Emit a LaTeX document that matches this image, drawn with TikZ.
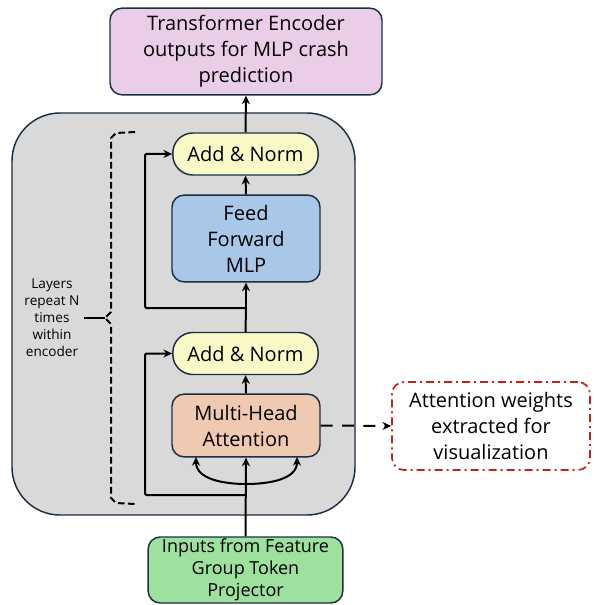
\documentclass[tikz,border=0pt]{standalone}
\usepackage{fontspec}
\setmainfont{Open Sans}
\usetikzlibrary{arrows.meta,calc}

\definecolor{pinkfill}{RGB}{234,206,232}
\definecolor{greyfill}{RGB}{217,217,217}
\definecolor{yellowfill}{RGB}{250,249,200}
\definecolor{bluefill}{RGB}{169,199,232}
\definecolor{peachfill}{RGB}{240,201,178}
\definecolor{greenfill}{RGB}{158,224,158}
\definecolor{edge}{RGB}{28,48,66}
\definecolor{dashred}{RGB}{190,36,28}

\tikzset{
  box/.style={draw=edge, line width=1.1pt, rounded corners=9pt, align=center,
    font=\fontsize{15}{19.5}\selectfont, inner sep=0pt},
  addnorm/.style={box, fill=yellowfill, rounded corners=15pt,
    minimum width=109pt, minimum height=31.5pt},
  flow/.style={line width=1.5pt, -{Stealth[length=6.5pt,width=6pt]}},
  link/.style={line width=1.5pt},
}

\begin{document}
\begin{tikzpicture}[x=0.75pt,y=-0.75pt]
			\useasboundingbox (0,0) rectangle (593,605);
			% encoder block
			\draw[fill=greyfill, draw=edge, line width=1.1pt, rounded corners=36pt] (12,113) rectangle (355,515);
			% boxes
			\node[box, fill=pinkfill, minimum width=204pt, minimum height=65pt] (out) at (246,51.5)
				{Transformer Encoder\\outputs for MLP crash\\prediction};
			\node[addnorm] (an2) at (245.5,154) {Add \& Norm};
			\node[box, fill=bluefill, minimum width=111pt, minimum height=65pt] (ff) at (246,238.5)
				{Feed\\Forward\\MLP};
			\node[addnorm] (an1) at (245.5,353.5) {Add \& Norm};
			\node[box, fill=peachfill, minimum width=111pt, minimum height=47pt] (mha) at (246,425.5)
				{Multi-Head\\Attention};
			\node[box, draw=dashred, dash pattern=on 6pt off 3pt on 1.5pt off 3pt, line width=1.3pt,
				minimum width=148.5pt, minimum height=66pt] (attn) at (491,426)
				{Attention weights\\extracted for\\visualization};
			\node[box, fill=greenfill, minimum width=146pt, minimum height=49.5pt,
				font=\fontsize{13.5}{16.5}\selectfont] (inp) at (245.5,570)
				{Inputs from Feature\\Group Token\\Projector};
			\node[align=center, font=\fontsize{10.2}{12.75}\selectfont] (layers) at (52,318)
				{Layers\\repeat N\\times\\within\\encoder};
			% junctions
			\coordinate (split1) at (246,495);
			\coordinate (split2) at (246,308);
			\coordinate (fork) at (246,484);
			\coordinate (kL) at (196,457);
			\coordinate (kR) at (297,457);
			% connectors
			\draw[flow] (inp.north) -- (mha.south);
			\draw[flow] (fork) to[out=180,in=-90] (kL);
			\draw[flow] (fork) to[out=0,in=-90] (kR);
			\draw[flow, rounded corners=1pt] (split1) -- (145,495) |- (an1.west);
			\draw[flow] (mha.north) -- (an1.south);
			\draw[link] (an1.north) -- (split2);
			\draw[flow] (split2) -- (ff.south);
			\draw[flow, rounded corners=1pt] (split2) -- (145,308) |- (an2.west);
			\draw[flow] (ff.north) -- (an2.south);
			\draw[flow] (an2.north) -- (out.south);
			\draw[flow, dash pattern=on 9pt off 7pt] (mha.east) -- (attn.west);
			% repeat brace
			\draw[line width=1.5pt, dash pattern=on 5pt off 2.5pt]
				(135,132) -- (116,133) -- (111,138) -- (111,312) -- (105,318) -- (111,324)
				-- (111,498) -- (116,503) -- (135,504);
			\draw[line width=1.5pt] (layers.east) -- (105,318);
		\end{tikzpicture}
\end{document}
